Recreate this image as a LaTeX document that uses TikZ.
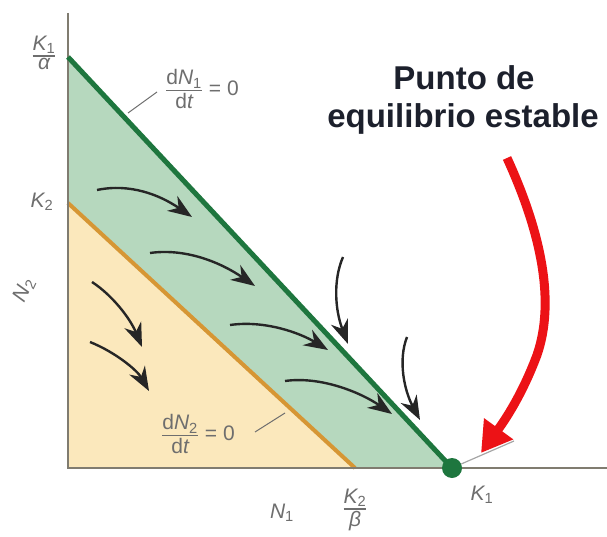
\documentclass[tikz,border=0pt]{standalone}
\usepackage{amsmath}
\usepackage{fontspec}
\setmainfont{Liberation Sans}
\usetikzlibrary{arrows.meta}
\definecolor{beige}{RGB}{251,232,188}
\definecolor{greenfill}{RGB}{182,216,190}
\definecolor{greenline}{RGB}{30,118,62}
\definecolor{orangeline}{RGB}{214,150,52}
\definecolor{axisgray}{RGB}{128,124,112}
\definecolor{labelgray}{RGB}{110,110,110}
\definecolor{titlecol}{RGB}{28,32,44}
\definecolor{redarrow}{RGB}{236,18,22}
\newcommand\myfrac[2]{$\genfrac{}{}{1.6pt}{}{\hbox{#1}}{\hbox{#2}}$}
\tikzset{
  lbl/.style={text=labelgray, font=\fontsize{21}{23}\selectfont, inner sep=0pt},
  flow/.style={draw=black!85, line width=2.4pt, -{Stealth[length=24pt,width=18pt]}},
  leader/.style={draw=labelgray, line width=1pt},
}
\begin{document}
\begin{tikzpicture}[x=1pt,y=-1pt]
\useasboundingbox (0,0) rectangle (607,537);
% regions
\fill[beige] (68,203) -- (355,468) -- (68,468) -- cycle;
\fill[greenfill] (68,57) -- (452,468) -- (355,468) -- (68,203) -- cycle;
% nullclines
\coordinate (k1a) at (68,57);
\coordinate (k2) at (68,203);
\coordinate (k2b) at (355,468);
\coordinate (origin) at (68,468);
\coordinate (ytop) at (68,13);
\coordinate (xend) at (607,468);
\draw[orangeline, line width=4pt] (k2) -- (k2b);
\draw[axisgray, line width=2.4pt] (ytop) -- (origin) -- (xend);
% equilibrium point
\node[circle, fill=greenline, minimum size=20pt, inner sep=0pt] (eq) at (452,468) {};
\draw[greenline, line width=5pt] (k1a) -- (eq.center);
% leaders
\coordinate (l1a) at (128,113);
\coordinate (l1b) at (157,92);
\draw[leader] (l1a) -- (l1b);
\coordinate (l2a) at (255,432);
\coordinate (l2b) at (285,413);
\draw[leader] (l2a) -- (l2b);
\coordinate (l3) at (514,441);
\draw[draw=gray!70, line width=1.2pt] (eq) -- (l3);
% flow arrows
\coordinate (a1s) at (97,190);  \coordinate (a1e) at (192,217);
\coordinate (a2s) at (150,253); \coordinate (a2e) at (255,286);
\coordinate (a3s) at (230,325); \coordinate (a3e) at (328,350);
\coordinate (a4s) at (285,381); \coordinate (a4e) at (392,414);
\coordinate (a5s) at (343,257); \coordinate (a5e) at (348,344);
\coordinate (a6s) at (407,337); \coordinate (a6e) at (420,420);
\coordinate (a7s) at (92,282);  \coordinate (a7e) at (142,347);
\coordinate (a8s) at (90,342);  \coordinate (a8e) at (149,391);
\draw[flow] (a1s) .. controls (130,183) and (160,195) .. (a1e);
\draw[flow] (a2s) .. controls (185,248) and (220,262) .. (a2e);
\draw[flow] (a3s) .. controls (265,320) and (300,333) .. (a3e);
\draw[flow] (a4s) .. controls (320,376) and (360,392) .. (a4e);
\draw[flow] (a5s) .. controls (333,280) and (335,310) .. (a5e);
\draw[flow] (a6s) .. controls (398,360) and (404,390) .. (a6e);
\draw[flow] (a7s) .. controls (112,295) and (130,318) .. (a7e);
\draw[flow] (a8s) .. controls (115,352) and (137,370) .. (a8e);
% red arrow
\coordinate (rs) at (507,158);
\coordinate (rm) at (537,355);
\coordinate (re) at (481,453);
\draw[redarrow, line width=9pt, -{Triangle[length=30pt,width=34pt]}]
  (rs) .. controls (540,230) and (556,300) .. (rm) .. controls (522,395) and (505,420) .. (re);
% labels
\node[lbl] (lk1a) at (44,53) {\myfrac{\itshape K\upshape\textsubscript{1}}{\itshape α}};
\node[lbl] (lk2) at (42,202) {{\itshape K}\textsubscript{2}};
\node[lbl, rotate=65] (ln2) at (24,290) {{\itshape N}\textsubscript{2}};
\node[lbl] (ln1) at (282,513) {{\itshape N}\textsubscript{1}};
\node[lbl] (lk2b) at (355,510) {\myfrac{\itshape K\upshape\textsubscript{2}}{\itshape β}};
\node[lbl] (lk1) at (482,495) {{\itshape K}\textsubscript{1}};
\node[lbl, anchor=west] (ln1dt) at (165,89) {\myfrac{d{\itshape N}\textsubscript{1}}{d{\itshape t}} = 0};
\node[lbl, anchor=west] (ln2dt) at (161,434) {\myfrac{d{\itshape N}\textsubscript{2}}{d{\itshape t}} = 0};
\node[text=titlecol, font=\bfseries\fontsize{33}{38}\selectfont, anchor=base, inner sep=0pt] (t1) at (464,90) {Punto de};
\node[text=titlecol, font=\bfseries\fontsize{33}{38}\selectfont, anchor=base, inner sep=0pt] (t2) at (463,128) {equilibrio estable};
\end{tikzpicture}
\end{document}
